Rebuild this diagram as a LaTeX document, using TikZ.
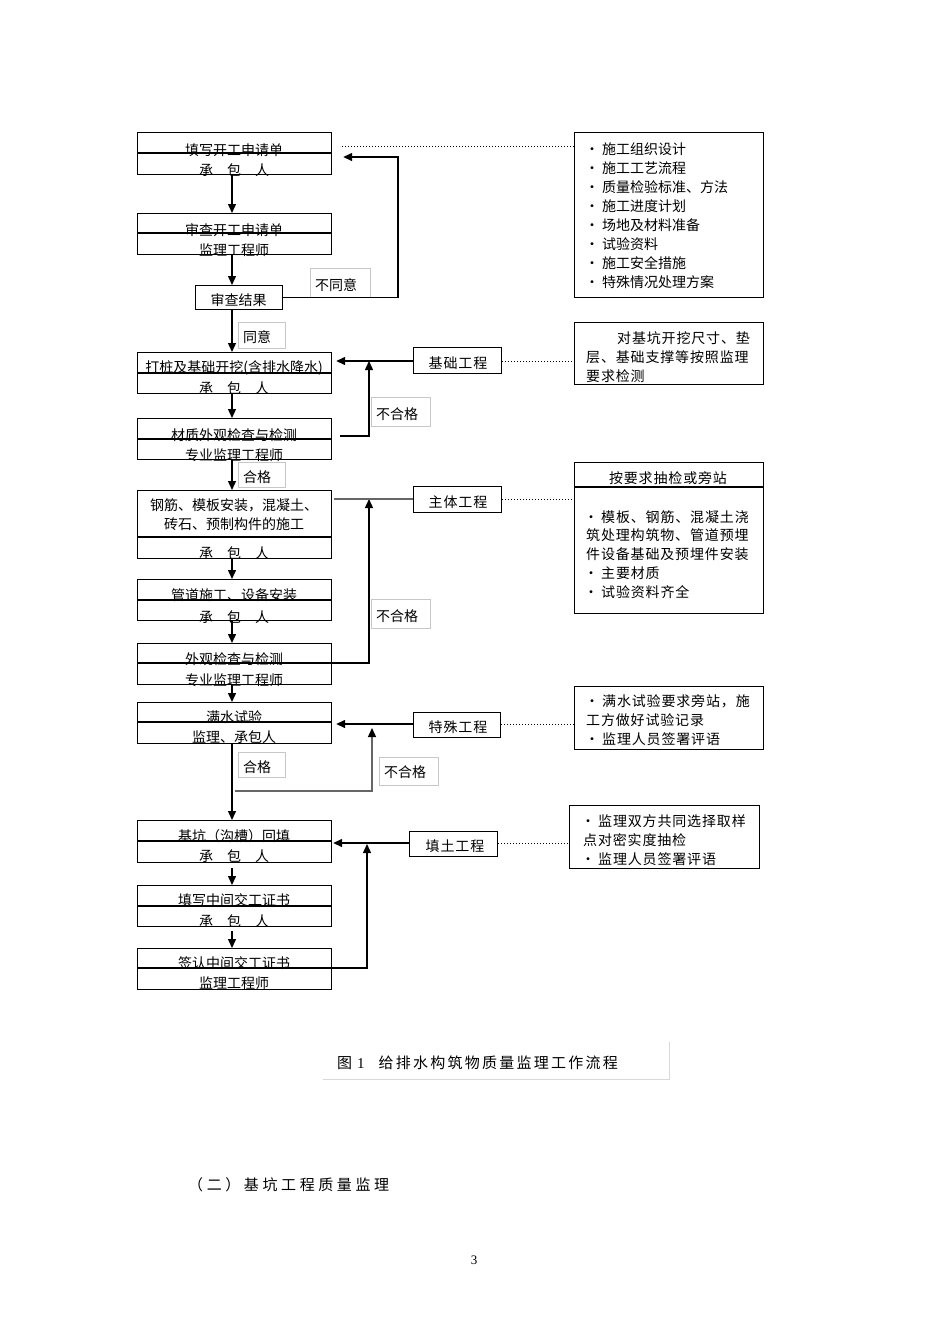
\documentclass[tikz,border=0pt]{standalone}
\usepackage{fontspec}
\setmainfont{Noto Sans CJK SC}
\newfontfamily\spfont[LetterSpace=6]{Noto Sans CJK SC}
\newfontfamily\secfont[LetterSpace=24]{Noto Sans CJK SC}
\newfontfamily\capfont[LetterSpace=15]{Noto Sans CJK SC}
\newfontfamily\numfont{Liberation Serif}
\usetikzlibrary{arrows.meta}
\begin{document}
\begin{tikzpicture}[x=1pt,y=-1pt,
  bx/.style={draw, line width=1.2pt, inner sep=0pt, anchor=north west},
  lb/.style={draw=black!22, line width=0.7pt, inner sep=0pt, anchor=north west},
  tx/.style={inner sep=0pt, font=\fontsize{14}{14}\selectfont},
  ltx/.style={inner sep=0pt, anchor=west, font=\fontsize{14}{14}\selectfont},
  stx/.style={inner sep=0pt, anchor=west, font=\fontsize{14}{14}\spfont},
  mtx/.style={inner sep=0pt, font=\fontsize{14}{14}\spfont},
  bl/.style={line width=1.2pt},
  arr/.style={line width=1.4pt, -{Triangle[length=9pt,width=8pt]}},
  garr/.style={line width=1.4pt, draw=black!60, -{Triangle[length=9pt,width=8pt,color=black]}},
  gl/.style={line width=1.4pt, draw=black!60},
  dots/.style={line width=1pt, dash pattern=on 1pt off 2pt}
]
\fill[white] (0,0) rectangle (950,1344);
\useasboundingbox (0,0) rectangle (950,1344);
\coordinate (col) at (232,0);

% ---------- left column boxes ----------
\node[bx, minimum width=194pt, minimum height=42pt] (b1) at (137,132) {};
\draw[bl] (b1.west |- 0,153) -- (b1.east |- 0,153);
\node[tx] (t1a) at (234,150) {填写开工申请单};
\node[tx] (t1b) at (234,170) {承\hspace{14pt}包\hspace{14pt}人};

\node[bx, minimum width=194pt, minimum height=41pt] (b2) at (137,213) {};
\draw[bl] (b2.west |- 0,233) -- (b2.east |- 0,233);
\node[tx] (t2a) at (234,230) {审查开工申请单};
\node[tx] (t2b) at (234,250) {监理工程师};

\node[bx, minimum width=87pt, minimum height=24pt] (b3) at (195,285) {};
\node[tx] (t3) at (238.5,300) {审查结果};

\node[bx, minimum width=194pt, minimum height=41pt] (b4) at (137,352) {};
\draw[bl] (b4.west |- 0,373) -- (b4.east |- 0,373);
\node[tx] (t4a) at (234,368) {打桩及基础开挖(含排水降水)};
\node[tx] (t4b) at (234,388) {承\hspace{14pt}包\hspace{14pt}人};

\node[bx, minimum width=194pt, minimum height=41pt] (b5) at (137,418) {};
\draw[bl] (b5.west |- 0,439) -- (b5.east |- 0,439);
\node[tx] (t5a) at (234,435) {材质外观检查与检测};
\node[tx] (t5b) at (234,455) {专业监理工程师};

\node[bx, minimum width=194pt, minimum height=68pt] (b6) at (137,490) {};
\draw[bl] (b6.west |- 0,537) -- (b6.east |- 0,537);
\node[tx] (t6a) at (234,505) {钢筋、模板安装，混凝土、};
\node[tx] (t6b) at (234,524) {砖石、预制构件的施工};
\node[tx] (t6c) at (234,553) {承\hspace{14pt}包\hspace{14pt}人};

\node[bx, minimum width=194pt, minimum height=41pt] (b7) at (137,579) {};
\draw[bl] (b7.west |- 0,600) -- (b7.east |- 0,600);
\node[tx] (t7a) at (234,595) {管道施工、设备安装};
\node[tx] (t7b) at (234,617) {承\hspace{14pt}包\hspace{14pt}人};

\node[bx, minimum width=194pt, minimum height=41pt] (b8) at (137,643) {};
\draw[bl] (b8.west |- 0,663) -- (b8.east |- 0,663);
\node[tx] (t8a) at (234,659) {外观检查与检测};
\node[tx] (t8b) at (234,680) {专业监理工程师};

\node[bx, minimum width=194pt, minimum height=41pt] (b9) at (137,702) {};
\draw[bl] (b9.west |- 0,722) -- (b9.east |- 0,722);
\node[tx] (t9a) at (234,717) {满水试验};
\node[tx] (t9b) at (234,737) {监理、承包人};

\node[bx, minimum width=194pt, minimum height=42pt] (b10) at (137,820) {};
\draw[bl] (b10.west |- 0,841) -- (b10.east |- 0,841);
\node[tx] (t10a) at (234,836) {基坑（沟槽）回填};
\node[tx] (t10b) at (234,856) {承\hspace{14pt}包\hspace{14pt}人};

\node[bx, minimum width=194pt, minimum height=41pt] (b11) at (137,885) {};
\draw[bl] (b11.west |- 0,906) -- (b11.east |- 0,906);
\node[tx] (t11a) at (234,900) {填写中间交工证书};
\node[tx] (t11b) at (234,921) {承\hspace{14pt}包\hspace{14pt}人};

\node[bx, minimum width=194pt, minimum height=41pt] (b12) at (137,948) {};
\draw[bl] (b12.west |- 0,968) -- (b12.east |- 0,968);
\node[tx] (t12a) at (234,963) {签认中间交工证书};
\node[tx] (t12b) at (234,983) {监理工程师};

% ---------- middle boxes ----------
\node[bx, minimum width=88pt, minimum height=26pt] (m1) at (413,347) {};
\node[mtx] (mt1) at (458,363) {基础工程};
\node[bx, minimum width=88pt, minimum height=26pt] (m2) at (413,486) {};
\node[mtx] (mt2) at (458,502) {主体工程};
\node[bx, minimum width=87pt, minimum height=25pt] (m3) at (413,712) {};
\node[mtx] (mt3) at (458,727) {特殊工程};
\node[bx, minimum width=88pt, minimum height=25pt] (m4) at (409,831) {};
\node[mtx] (mt4) at (455,846) {填土工程};

% ---------- right boxes ----------
\node[bx, minimum width=189pt, minimum height=165pt] (r1) at (574,132) {};
\node[ltx] (r1a) at (585,149) {•\hspace{3pt}施工组织设计};
\node[ltx] (r1b) at (585,168) {•\hspace{3pt}施工工艺流程};
\node[ltx] (r1c) at (585,187) {•\hspace{3pt}质量检验标准、方法};
\node[ltx] (r1d) at (585,206) {•\hspace{3pt}施工进度计划};
\node[ltx] (r1e) at (585,225) {•\hspace{3pt}场地及材料准备};
\node[ltx] (r1f) at (585,244) {•\hspace{3pt}试验资料};
\node[ltx] (r1g) at (585,263) {•\hspace{3pt}施工安全措施};
\node[ltx] (r1h) at (585,282) {•\hspace{3pt}特殊情况处理方案};

\node[bx, minimum width=189pt, minimum height=62pt] (r2) at (574,322) {};
\node[stx] (r2a) at (617,338) {对基坑开挖尺寸、垫};
\node[stx] (r2b) at (586,357) {层、基础支撑等按照监理};
\node[stx] (r2c) at (586,376) {要求检测};

\node[bx, minimum width=189pt, minimum height=151pt] (r3) at (574,462) {};
\draw[line width=1.6pt] (r3.west |- 0,487) -- (r3.east |- 0,487);
\node[mtx] (r3t) at (668,478) {按要求抽检或旁站};
\node[stx] (r3a) at (584,517) {•\hspace{3pt}模板、钢筋、混凝土浇};
\node[stx] (r3b) at (586,535) {筑处理构筑物、管道预埋};
\node[stx] (r3c) at (586,554) {件设备基础及预埋件安装};
\node[stx] (r3d) at (584,573) {•\hspace{3pt}主要材质};
\node[stx] (r3e) at (584,592) {•\hspace{3pt}试验资料齐全};

\node[bx, minimum width=189pt, minimum height=63pt] (r4) at (574,686) {};
\node[stx] (r4a) at (585,701) {•\hspace{3pt}满水试验要求旁站，施};
\node[stx] (r4b) at (586,720) {工方做好试验记录};
\node[stx] (r4c) at (585,739) {•\hspace{3pt}监理人员签署评语};

\node[bx, minimum width=190pt, minimum height=63pt] (r5) at (569,805) {};
\node[stx] (r5a) at (581,821) {•\hspace{3pt}监理双方共同选择取样};
\node[stx] (r5b) at (583,840) {点对密实度抽检};
\node[stx] (r5c) at (581,859) {•\hspace{3pt}监理人员签署评语};

% ---------- gray labels ----------
\node[lb, minimum width=60pt, minimum height=29pt] (l1) at (310,268) {};
\node[ltx] (l1t) at (315,285) {不同意};
\node[lb, minimum width=47pt, minimum height=26pt] (l2) at (238,322) {};
\node[ltx] (l2t) at (243,337) {同意};
\node[lb, minimum width=59pt, minimum height=29pt] (l3) at (371,397) {};
\node[ltx] (l3t) at (376,414) {不合格};
\node[lb, minimum width=47pt, minimum height=25pt] (l4) at (238,462) {};
\node[ltx] (l4t) at (243,477) {合格};
\node[lb, minimum width=59pt, minimum height=29pt] (l5) at (371,599) {};
\node[ltx] (l5t) at (376,616) {不合格};
\node[lb, minimum width=47pt, minimum height=25pt] (l6) at (238,752) {};
\node[ltx] (l6t) at (243,767) {合格};
\node[lb, minimum width=59pt, minimum height=28pt] (l7) at (379,757) {};
\node[ltx] (l7t) at (384,772) {不合格};

% ---------- main vertical arrows ----------
\draw[arr] (b1.south -| col) -- (b2.north -| col);
\draw[arr] (b2.south -| col) -- (b3.north -| col);
\draw[arr] (b3.south -| col) -- (b4.north -| col);
\draw[arr] (b4.south -| col) -- (b5.north -| col);
\draw[arr] (b5.south -| col) -- (b6.north -| col);
\draw[arr] (b6.south -| col) -- (b7.north -| col);
\draw[arr] (b7.south -| col) -- (b8.north -| col);
\draw[arr] (b8.south -| col) -- (b9.north -| col);
\draw[arr] (b9.south -| col) -- (b10.north -| col);
\draw[arr] ([yshift=-5pt]b10.south -| col) -- (b11.north -| col);
\draw[arr] ([yshift=-4pt]b11.south -| col) -- (b12.north -| col);

% ---------- return loops ----------
\coordinate (c1) at (398,157);
\draw[arr] (b3.east) -| (c1) -- ([xshift=11pt]b1.east |- c1);

\coordinate (j1s) at (340,436);
\coordinate (j1) at (369,361);
\draw[arr] (j1s) -| (j1);

\coordinate (j2) at (369,499);
\draw[arr] (b8.west |- 0,663) -| (j2);

\coordinate (j3s) at (235,791);
\coordinate (j3) at (372,728);
\draw[garr] (j3s) -| (j3);

\coordinate (j4) at (367,844);
\draw[arr] (b12.west |- 0,968) -| (j4);

% ---------- side inputs ----------
\draw[arr] (m1.west |- 0,361) -- ([xshift=4pt]b4.east |- 0,361);
\draw[gl] (m2.west |- 0,499) -- ([xshift=2pt]b6.east |- 0,499);
\draw[arr] (m3.west |- 0,724) -- ([xshift=4pt]b9.east |- 0,724);
\draw[arr] (m4.west |- 0,843) -- ([xshift=1pt]b10.east |- 0,843);

% ---------- dotted links ----------
\coordinate (d1) at (340,146);
\draw[dots] (r1.west |- d1) -- (d1);
\draw[dots] (m1.east |- 0,361) -- (r2.west |- 0,361);
\draw[dots] (m2.east |- 0,499) -- (r3.west |- 0,499);
\draw[dots] (m3.east |- 0,724) -- (r4.west |- 0,724);
\draw[dots] (m4.east |- 0,843) -- (r5.west |- 0,843);

% ---------- caption & text ----------
\node[inner sep=0pt, anchor=west, font=\fontsize{15}{15}\capfont] (cap) at (337,1063) {图\hspace{5pt}{\numfont 1}\hspace{14pt}给排水构筑物质量监理工作流程};
\draw[black!15, line width=0.7pt] (323,1079) -- (669,1079) -- (669,1042);
\node[inner sep=0pt, anchor=west, font=\fontsize{15}{15}\secfont] (sec) at (188,1185) {（二）基坑工程质量监理};
\node[inner sep=0pt, font=\fontsize{13}{13}\numfont] (pg) at (474,1260) {3};
\end{tikzpicture}
\end{document}
